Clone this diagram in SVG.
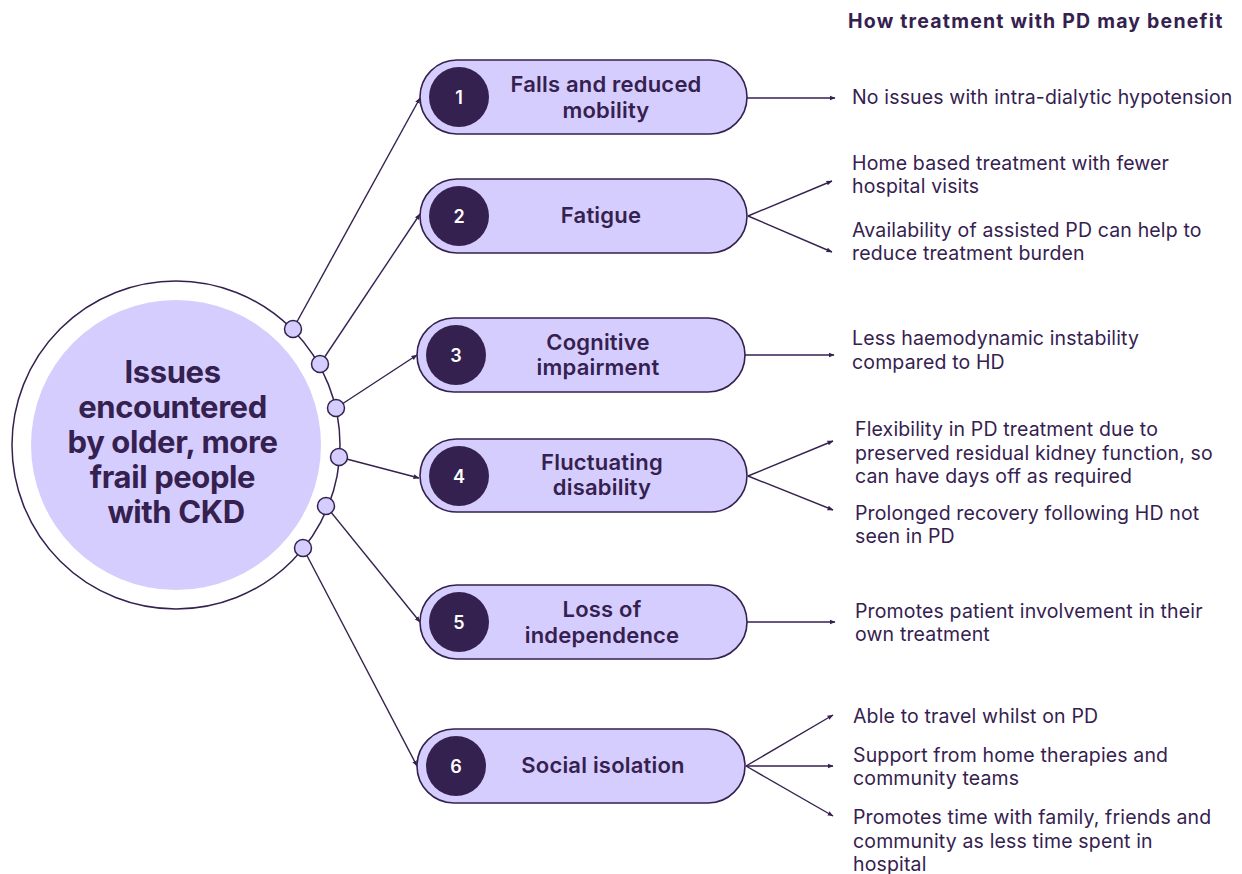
<svg xmlns="http://www.w3.org/2000/svg" width="1242" height="874" viewBox="0 0 1242 874">
  <style>
    .ring { fill: none; stroke: #35214f; stroke-width: 1.5; }
    .hub { fill: #d5cdfd; stroke: none; }
    .dot { fill: #d5cdfd; stroke: #35214f; stroke-width: 1.5; }
    .pill { fill: #d5cdfd; stroke: #35214f; stroke-width: 1.6; }
    .badge { fill: #35214f; }
    .num { font-family: Inter, "Liberation Sans", sans-serif; font-size: 18px; font-weight: 600; fill: #ffffff; text-anchor: middle; }
    .label { font-family: Inter, "Liberation Sans", sans-serif; font-size: 22px; font-weight: 600; fill: #35214f; text-anchor: middle; letter-spacing: 0.2px; }
    .hubtext { font-family: Inter, "Liberation Sans", sans-serif; font-size: 31px; font-weight: 700; fill: #35214f; text-anchor: middle; letter-spacing: -0.4px; }
    .benefit { font-family: Inter, "Liberation Sans", sans-serif; font-size: 19.5px; font-weight: 400; fill: #35214f; letter-spacing: 0.15px; }
    .title { font-family: Inter, "Liberation Sans", sans-serif; font-size: 19.5px; font-weight: 700; fill: #35214f; letter-spacing: 1.2px; }
    .conn { stroke: #35214f; stroke-width: 1.4; fill: none; marker-end: url(#arrow); }
  </style>
  <defs>
    <marker id="arrow" viewBox="0 0 6 6" refX="5.5" refY="3" markerWidth="6" markerHeight="6" markerUnits="userSpaceOnUse" orient="auto">
      <path d="M0,0.6 L6,3 L0,5.4 Z" fill="#35214f"/>
    </marker>
  </defs>

  <rect width="1242" height="874" fill="#ffffff"/>

  <!-- Heading of the right column -->
  <text class="title" x="848" y="28">How treatment with PD may benefit</text>

  <!-- Connectors -->
  <g id="connectors">
    <!-- hub to issues -->
    <line class="conn" x1="293" y1="329" x2="420" y2="98"/>
    <line class="conn" x1="320" y1="364" x2="420" y2="214"/>
    <line class="conn" x1="336" y1="408" x2="417" y2="355"/>
    <line class="conn" x1="339" y1="457" x2="419" y2="478"/>
    <line class="conn" x1="326" y1="506" x2="420" y2="622"/>
    <line class="conn" x1="303" y1="548" x2="417" y2="766"/>
    <!-- issues to benefits -->
    <line class="conn" x1="747" y1="98" x2="835" y2="98"/>
    <line class="conn" x1="748" y1="216" x2="832" y2="181"/>
    <line class="conn" x1="748" y1="216" x2="832" y2="252"/>
    <line class="conn" x1="745" y1="355" x2="834" y2="355"/>
    <line class="conn" x1="748" y1="476" x2="833" y2="441"/>
    <line class="conn" x1="748" y1="476" x2="833" y2="510"/>
    <line class="conn" x1="747" y1="622" x2="835" y2="622"/>
    <line class="conn" x1="746" y1="766" x2="833" y2="715"/>
    <line class="conn" x1="746" y1="766" x2="833" y2="766"/>
    <line class="conn" x1="746" y1="766" x2="833" y2="816"/>
  </g>

  <!-- Central hub -->
  <g id="hub">
    <circle class="ring" cx="176" cy="445" r="164"/>
    <circle class="hub" cx="176" cy="445" r="145"/>
    <text class="hubtext">
      <tspan x="176" y="383">Issues</tspan>
      <tspan x="176" y="418">encountered</tspan>
      <tspan x="176" y="453">by older, more</tspan>
      <tspan x="176" y="488">frail people</tspan>
      <tspan x="176" y="523">with CKD</tspan>
    </text>
    <circle class="dot" cx="293" cy="329" r="8.5"/>
    <circle class="dot" cx="320" cy="364" r="8.5"/>
    <circle class="dot" cx="336" cy="408" r="8.5"/>
    <circle class="dot" cx="339" cy="457" r="8.5"/>
    <circle class="dot" cx="326" cy="506" r="8.5"/>
    <circle class="dot" cx="303" cy="548" r="8.5"/>
  </g>

  <!-- Issue 1 -->
  <g id="issue-1">
    <rect class="pill" x="420" y="60" width="327" height="74" rx="37"/>
    <circle class="badge" cx="459" cy="97" r="30"/>
    <text class="num" x="459" y="104">1</text>
    <text class="label"><tspan x="606" y="92">Falls and reduced</tspan><tspan x="606" y="118">mobility</tspan></text>
  </g>

  <!-- Issue 2 -->
  <g id="issue-2">
    <rect class="pill" x="420" y="179" width="327" height="74" rx="37"/>
    <circle class="badge" cx="459" cy="216" r="30"/>
    <text class="num" x="459" y="223">2</text>
    <text class="label" x="601" y="223">Fatigue</text>
  </g>

  <!-- Issue 3 -->
  <g id="issue-3">
    <rect class="pill" x="417" y="318" width="328" height="74" rx="37"/>
    <circle class="badge" cx="456" cy="355" r="30"/>
    <text class="num" x="456" y="362">3</text>
    <text class="label"><tspan x="598" y="350">Cognitive</tspan><tspan x="598" y="375">impairment</tspan></text>
  </g>

  <!-- Issue 4 -->
  <g id="issue-4">
    <rect class="pill" x="420" y="439" width="327" height="73" rx="36.5"/>
    <circle class="badge" cx="459" cy="476" r="30"/>
    <text class="num" x="459" y="483">4</text>
    <text class="label"><tspan x="602" y="470">Fluctuating</tspan><tspan x="602" y="495">disability</tspan></text>
  </g>

  <!-- Issue 5 -->
  <g id="issue-5">
    <rect class="pill" x="420" y="585" width="327" height="74" rx="37"/>
    <circle class="badge" cx="459" cy="622" r="30"/>
    <text class="num" x="459" y="629">5</text>
    <text class="label"><tspan x="602" y="617">Loss of</tspan><tspan x="602" y="643">independence</tspan></text>
  </g>

  <!-- Issue 6 -->
  <g id="issue-6">
    <rect class="pill" x="417" y="729" width="328" height="74" rx="37"/>
    <circle class="badge" cx="456" cy="766" r="30"/>
    <text class="num" x="456" y="773">6</text>
    <text class="label" x="603" y="773">Social isolation</text>
  </g>

  <!-- Benefits -->
  <g id="benefits-1">
    <text class="benefit" x="852" y="104">No issues with intra-dialytic hypotension</text>
  </g>
  <g id="benefits-2">
    <text class="benefit"><tspan x="852" y="170">Home based treatment with fewer</tspan><tspan x="852" y="193">hospital visits</tspan></text>
    <text class="benefit"><tspan x="852" y="237">Availability of assisted PD can help to</tspan><tspan x="852" y="260">reduce treatment burden</tspan></text>
  </g>
  <g id="benefits-3">
    <text class="benefit"><tspan x="852" y="345">Less haemodynamic instability</tspan><tspan x="852" y="369">compared to HD</tspan></text>
  </g>
  <g id="benefits-4">
    <text class="benefit"><tspan x="855" y="436">Flexibility in PD treatment due to</tspan><tspan x="855" y="460">preserved residual kidney function, so</tspan><tspan x="855" y="483">can have days off as required</tspan></text>
    <text class="benefit"><tspan x="855" y="520">Prolonged recovery following HD not</tspan><tspan x="855" y="543">seen in PD</tspan></text>
  </g>
  <g id="benefits-5">
    <text class="benefit"><tspan x="855" y="618">Promotes patient involvement in their</tspan><tspan x="855" y="641">own treatment</tspan></text>
  </g>
  <g id="benefits-6">
    <text class="benefit" x="853" y="723">Able to travel whilst on PD</text>
    <text class="benefit"><tspan x="853" y="762">Support from home therapies and</tspan><tspan x="853" y="785">community teams</tspan></text>
    <text class="benefit"><tspan x="853" y="824">Promotes time with family, friends and</tspan><tspan x="853" y="848">community as less time spent in</tspan><tspan x="853" y="871">hospital</tspan></text>
  </g>
</svg>
